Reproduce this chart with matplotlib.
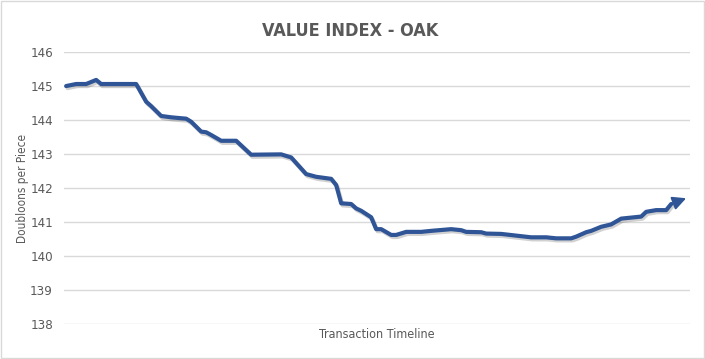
import matplotlib
matplotlib.use("Agg")
import matplotlib.pyplot as plt
import matplotlib.patheffects as pe
from matplotlib.patches import Rectangle

# Data
step = [0, 2, 4, 6, 7, 9, 14, 16, 17, 19, 21, 24, 25, 27, 28, 29, 31, 34, 37,
        43, 45, 48, 50, 53, 54, 55, 57, 58, 59, 61, 62, 63, 65, 66, 68, 71, 73,
        77, 79, 80, 83, 84, 87, 90, 93, 96, 98, 101, 102, 104, 105, 107, 109,
        111, 115, 116, 118, 120, 121, 124]
price = [145.00, 145.06, 145.06, 145.18, 145.06, 145.06, 145.06, 144.54, 144.41,
         144.12, 144.08, 144.04, 143.95, 143.66, 143.64, 143.56, 143.39, 143.39,
         142.98, 142.99, 142.90, 142.41, 142.33, 142.27, 142.09, 141.55, 141.53,
         141.40, 141.33, 141.14, 140.79, 140.79, 140.62, 140.62, 140.71, 140.71,
         140.74, 140.79, 140.76, 140.71, 140.70, 140.66, 140.65, 140.60, 140.55,
         140.55, 140.52, 140.52, 140.57, 140.70, 140.74, 140.86, 140.93, 141.10,
         141.16, 141.30, 141.35, 141.35, 141.53, 141.70]
y_ticks = [138, 139, 140, 141, 142, 143, 144, 145, 146]

grey = "#595959"
blue = "#2f5597"
plt.rcParams["font.family"] = ["DejaVu Sans"]
plt.rcParams["font.stretch"] = "condensed"

fig = plt.figure(figsize=(7.05, 3.59), dpi=100)
ax = fig.add_axes([0.091, 0.0975, 0.888, 0.7575])

shadow = [pe.SimpleLineShadow(offset=(1, -1.5), alpha=0.18), pe.Normal()]
ax.plot(step[:-1], price[:-1], color=blue, lw=3, solid_capstyle="round",
        solid_joinstyle="round", zorder=3, path_effects=shadow)
# arrow head at the end of the series
ax.annotate("", xy=(step[-1], price[-1]), xytext=(step[-2], price[-2]),
            arrowprops=dict(arrowstyle="-|>,head_length=0.8,head_width=0.4",
                            color=blue, lw=1.5, shrinkA=0, shrinkB=0,
                            mutation_scale=10), zorder=4)

ax.set_xlim(-0.4, 124.8)
ax.set_ylim(138, 146)
ax.set_yticks(y_ticks)
ax.set_xticks([])
ax.grid(axis="y", color="#d9d9d9", lw=1)
ax.set_axisbelow(True)
for s in ax.spines.values():
    s.set_visible(False)
ax.tick_params(axis="y", length=0, labelsize=9.5, labelcolor=grey, pad=8)

ax.set_ylabel("Doubloons per Piece", fontsize=8.5, color=grey)
ax.yaxis.set_label_coords(-0.056, 0.5)
ax.set_xlabel("Transaction Timeline", fontsize=9, color=grey, labelpad=3)
fig.text(0.497, 0.915, "VALUE INDEX - OAK", ha="center", va="center",
         fontsize=13, fontweight="bold", color=grey)

# chart border
fig.add_artist(Rectangle((0.001, 0.002), 0.997, 0.995, transform=fig.transFigure,
                         fill=False, edgecolor="#d9d9d9", lw=1))

fig.savefig("out.png", dpi=100)
